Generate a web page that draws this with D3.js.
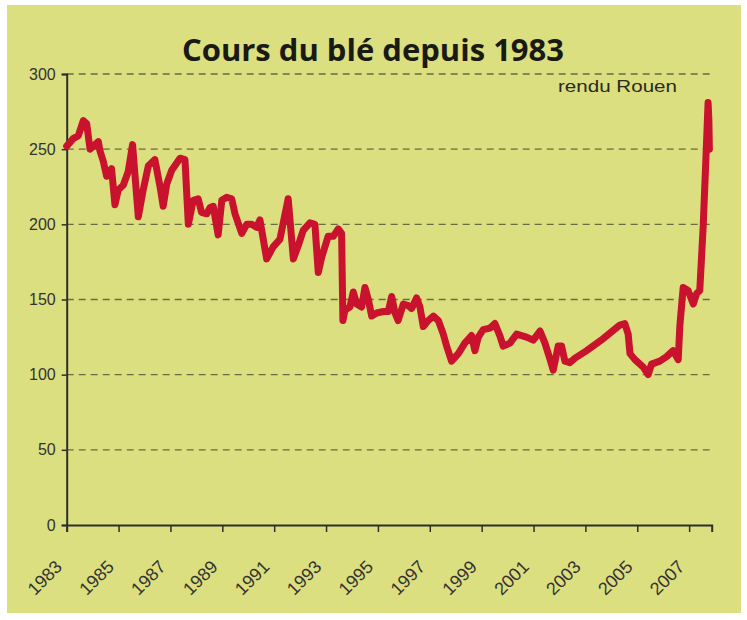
<!DOCTYPE html>
<html>
<head>
<meta charset="utf-8">
<script src="https://cdn.jsdelivr.net/npm/d3@7"></script>
<style>
  html, body { margin: 0; padding: 0; background: #ffffff; }
  svg { display: block; }
</style>
</head>
<body>
<script>
// ---- data ----
const years = [
  1983.00, 1983.25, 1983.45, 1983.64, 1983.77, 1983.90, 1984.03, 1984.22, 1984.28, 1984.41,
  1984.54, 1984.73, 1984.86, 1984.99, 1985.18, 1985.37, 1985.54, 1985.76, 1985.95, 1986.15,
  1986.40, 1986.60, 1986.72, 1986.86, 1987.05, 1987.37, 1987.56, 1987.69, 1987.88, 1988.07,
  1988.20, 1988.40, 1988.52, 1988.65, 1988.84, 1988.98, 1989.17, 1989.36, 1989.49, 1989.75,
  1989.94, 1990.13, 1990.32, 1990.45, 1990.71, 1990.96, 1991.22, 1991.54, 1991.74, 1991.93,
  1992.12, 1992.38, 1992.57, 1992.70, 1992.83, 1993.08, 1993.28, 1993.47, 1993.60, 1993.65,
  1993.73, 1993.92, 1994.05, 1994.18, 1994.37, 1994.50, 1994.63, 1994.76, 1994.95, 1995.21,
  1995.40, 1995.53, 1995.66, 1995.78, 1995.98, 1996.17, 1996.30, 1996.49, 1996.62, 1996.75,
  1996.94, 1997.14, 1997.33, 1997.52, 1997.65, 1997.84, 1998.10, 1998.35, 1998.61, 1998.74,
  1998.87, 1999.06, 1999.32, 1999.51, 1999.70, 1999.83, 2000.09, 2000.35, 2000.54, 2000.73,
  2000.99, 2001.25, 2001.44, 2001.64, 2001.76, 2001.95, 2002.08, 2002.21, 2002.40, 2002.60,
  2003.05, 2003.69, 2004.33, 2004.52, 2004.65, 2004.72, 2004.91, 2005.23, 2005.42, 2005.55,
  2005.87, 2006.13, 2006.38, 2006.58, 2006.64, 2006.77, 2006.96, 2007.16, 2007.29, 2007.41,
  2007.54, 2007.67, 2007.73, 2007.76, 2007.78
];
const prices = [
  252, 257, 259, 269, 267, 250, 252, 255, 249, 242,
  232, 237, 213, 223, 226, 235, 253, 205, 223, 239,
  243, 225, 212, 227, 236, 244, 243, 200, 216, 217,
  208, 207, 211, 212, 193, 216, 218, 217, 207, 194,
  200, 200, 198, 203, 177, 185, 190, 217, 177, 186,
  196, 201, 200, 168, 178, 192, 192, 197, 194, 136,
  143, 145, 155, 147, 145, 158, 150, 139, 141, 142,
  142, 152, 141, 136, 147, 146, 144, 151, 145, 132,
  136, 139, 136, 127, 119, 109, 114, 121, 126, 116,
  125, 130, 131, 134, 126, 119, 121, 127, 126, 125,
  123, 129, 121, 110, 103, 119, 119, 109, 108, 111,
  116, 124, 133, 134, 127, 114, 110, 105, 100, 107,
  109, 112, 116, 110, 132, 158, 156, 147, 154, 156,
  198, 254, 281, 270, 250
];
const yTickValues = [0, 50, 100, 150, 200, 250, 300];
const xTickYears = [1983, 1985, 1987, 1989, 1991, 1993, 1995, 1997, 1999, 2001, 2003, 2005, 2007];
const titleText = "Cours du blé depuis 1983";
const noteText = "rendu Rouen";

// ---- layout ----
const W = 747, H = 620;
const svg = d3.select("body").append("svg").attr("width", W).attr("height", H);

svg.append("rect").attr("x", 7).attr("y", 5).attr("width", 734).attr("height", 608)
  .attr("fill", "#dbdf80");

const x = d3.scaleLinear().domain([1983, 2007.87]).range([66.7, 711.7]);
const y = d3.scaleLinear().domain([0, 300]).range([525, 74]);

// gridlines
svg.append("g").selectAll("line").data(yTickValues.filter(v => v > 0)).join("line")
  .attr("x1", x(1983)).attr("x2", x(2007.87))
  .attr("y1", d => y(d)).attr("y2", d => y(d))
  .attr("stroke", "#555a38").attr("stroke-width", 1.3)
  .attr("stroke-dasharray", "7,5").attr("opacity", 0.85);

// y axis
const yAxis = svg.append("g").attr("transform", `translate(${x(1983)},0)`)
  .call(d3.axisLeft(y).tickValues(yTickValues).tickSize(5).tickPadding(6));
yAxis.select(".domain").attr("stroke", "#2e2e2a").attr("stroke-width", 2);
yAxis.selectAll(".tick line").attr("stroke", "#2e2e2a").attr("stroke-width", 1.5);
yAxis.selectAll(".tick text").attr("font-family", "Liberation Sans, Arial, sans-serif")
  .attr("font-size", 16).attr("fill", "#333");

// x axis
const xAxis = svg.append("g").attr("transform", `translate(0,${y(0)})`)
  .call(d3.axisBottom(x).tickValues(xTickYears).tickSize(7).tickFormat(d3.format("d")));
xAxis.select(".domain").attr("stroke", "#2e2e2a").attr("stroke-width", 2);
xAxis.selectAll(".tick line").attr("stroke", "#2e2e2a").attr("stroke-width", 1.5);
xAxis.selectAll(".tick text")
  .attr("font-family", "Liberation Sans, Arial, sans-serif")
  .attr("font-size", 18).attr("fill", "#333")
  .attr("text-anchor", "end").attr("dy", null).attr("y", null)
  .attr("transform", "translate(-4,43) rotate(-45)");

// price line
const series = years.map((yr, i) => ({ yr, p: prices[i] }));
svg.append("path").datum(series)
  .attr("fill", "none").attr("stroke", "#c8122e").attr("stroke-width", 7)
  .attr("stroke-linejoin", "round").attr("stroke-linecap", "round")
  .attr("d", d3.line().x(d => x(d.yr)).y(d => y(d.p)));

// title
svg.append("text").attr("x", 373).attr("y", 61).attr("text-anchor", "middle")
  .attr("font-family", "Open Sans, sans-serif").attr("font-weight", "bold")
  .attr("font-size", 31).attr("fill", "#1a1a14").text(titleText);

// note
svg.append("text").attr("x", 558).attr("y", 92)
  .attr("font-family", "Liberation Sans, Arial, sans-serif")
  .attr("font-size", 17).attr("fill", "#2a2a22")
  .attr("textLength", 119).attr("lengthAdjust", "spacingAndGlyphs").text(noteText);
</script>
</body>
</html>
